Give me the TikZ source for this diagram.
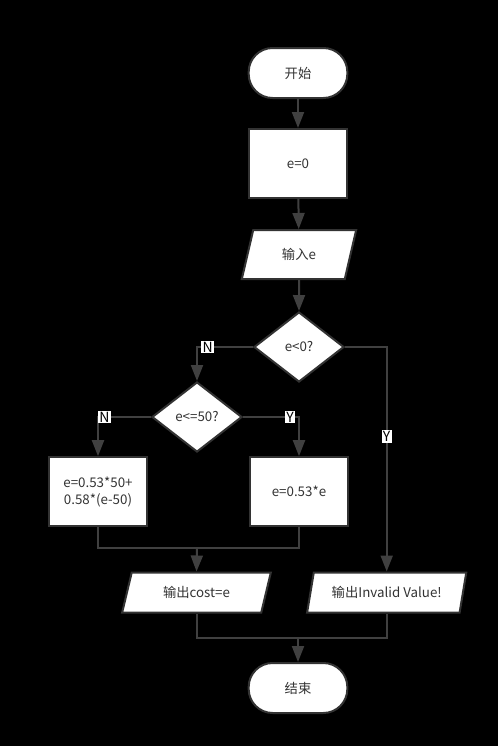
\documentclass[tikz,border=0pt]{standalone}
\usepackage{fontspec}
\setmainfont{Noto Sans CJK SC}
\usetikzlibrary{arrows.meta, shapes.geometric}
\definecolor{cline}{HTML}{404040}
\definecolor{cedge}{HTML}{333333}
\definecolor{ctext}{HTML}{333333}
\tikzset{
  every picture/.style={font=\fontsize{10}{12.5}\selectfont, line width=1.5pt},
  term/.style={draw=cedge, fill=white, text=ctext, rounded corners=18pt, minimum width=74pt, minimum height=37.5pt, align=center},
  proc/.style={draw=cedge, fill=white, text=ctext, minimum width=74pt, minimum height=51.75pt, align=center, inner sep=2pt},
  io/.style={draw=cedge, fill=white, text=ctext, trapezium, trapezium left angle=#1, trapezium right angle=180-#1, trapezium stretches=true, inner sep=1pt},
  io/.default=73,
  cond/.style={draw=cedge, fill=white, text=ctext, diamond, minimum width=67.5pt, minimum height=52.5pt, inner sep=0pt},
  arrow/.style={-{Triangle[length=12pt, width=9pt]}, draw=cline},
  edge/.style={draw=cline},
  lab/.style={fill=white, text=black, inner sep=1pt, font=\fontsize{10.5}{12}\selectfont},
}

\begin{document}
\begin{tikzpicture}[x=0.75pt, y=-0.75pt]
  \useasboundingbox[fill=black] (0,0) rectangle (498,746);
  % main column
  \node[term] (start) at (298,73) {开始};
  \node[proc] (init) at (298,163.5) {e=0};
  \node[io, minimum width=86pt, minimum height=36.75pt] (input) at (299,254.5) {输入e};
  \node[cond] (neg) at (299,347) {e<0?};
  \node[cond] (low) at (197,417) {e<=50?};
  \node[proc] (high) at (98,491.7) {e=0.53*50+\\0.58*(e-50)};
  \node[proc] (base) at (299,491.7) {e=0.53*e};
  \node[io=71, minimum width=112pt, minimum height=30pt] (outcost) at (196.5,592.5) {输出cost=e};
  \node[io=71, minimum width=120pt, minimum height=30pt] (outbad) at (386.7,592.5) {输出Invalid Value!};
  \node[term] (stop) at (298,688) {结束};
  \coordinate (join1) at (197,548);
  \coordinate (join2) at (298,638);
  % connectors
  \draw[arrow] (start) -- (init);
  \draw[arrow] (init) -- (input);
  \draw[arrow] (input) -- (neg);
  \draw[arrow] (neg.west) -| node[lab, pos=0.405] {N} (low.north);
  \draw[arrow] (neg.east) -| node[lab, pos=0.70] {Y} (outbad.north);
  \draw[arrow] (low.west) -| node[lab, pos=0.44] {N} (high.north);
  \draw[arrow] (low.east) -| node[lab, pos=0.42] {Y} (base.north);
  \draw[edge] (high.south) |- (join1);
  \draw[edge] (base.south) |- (join1);
  \draw[arrow] (join1) -- (outcost.north);
  \draw[edge] (outcost.south) |- (join2);
  \draw[edge] (outbad.south) |- (join2);
  \draw[arrow] (join2) -- (stop);
\end{tikzpicture}
\end{document}
